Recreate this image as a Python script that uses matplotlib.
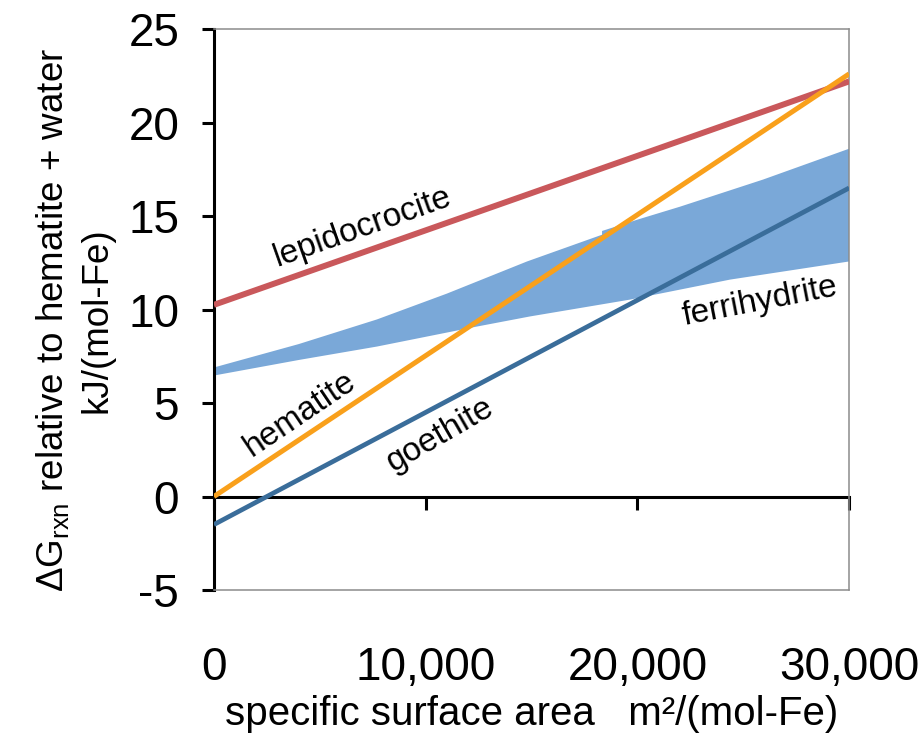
import numpy as np
import matplotlib
matplotlib.use("Agg")
import matplotlib.pyplot as plt

plt.rcParams['font.family'] = ['Liberation Sans', 'DejaVu Sans']
plt.rcParams['mathtext.fontset'] = 'custom'
plt.rcParams['mathtext.rm'] = 'Liberation Sans'

# surface area (m2/mol-Fe) and free energies (kJ/mol-Fe)
area_ends = [0, 30000]
lepidocrocite = [10.25, 22.2]
hematite = [0.0, 22.6]
goethite = [-1.5, 16.5]

# ferrihydrite range: upper and lower envelopes
fh_upper_x = [0, 4000, 7700, 11000, 14787, 18330, 18330, 19983, 22014, 25936, 30000]
fh_upper_y = [6.9, 8.15, 9.47, 10.85, 12.57, 14.0, 14.2, 14.8, 15.5, 16.95, 18.6]
fh_lower_x = [0, 4000, 7700, 12424, 14928, 19652, 24376, 30000]
fh_lower_y = [6.47, 7.3, 8.02, 9.09, 9.63, 10.53, 11.6, 12.57]

xticks = [0, 10000, 20000, 30000]
xtick_labels = ['0', '10,000', '20,000', '30,000']
yticks = [-5, 0, 5, 10, 15, 20, 25]

fig = plt.figure(figsize=(9.22, 7.38), dpi=100)
ax = fig.add_axes([0.232, 0.2005, 0.689, 0.7602])

poly_x = np.concatenate([fh_upper_x, fh_lower_x[::-1]])
poly_y = np.concatenate([fh_upper_y, fh_lower_y[::-1]])
ax.fill(poly_x, poly_y, color='#7aa8d8', lw=0, zorder=1)

ax.plot(area_ends, lepidocrocite, color='#c9585b', lw=4.3, solid_capstyle='butt', zorder=3)
ax.plot(area_ends, goethite, color='#3a6d9a', lw=3.4, solid_capstyle='butt', zorder=3)
ax.plot(area_ends, hematite, color='#f9a01b', lw=3.6, solid_capstyle='butt', zorder=4)

ax.set_xlim(0, 30000)
ax.set_ylim(-5, 25)

# frame: heavy black y axis, thin grey box elsewhere
for side in ['top', 'right', 'bottom']:
    ax.spines[side].set_color('#8c8c8c')
    ax.spines[side].set_linewidth(1.1)
ax.spines['left'].set_color('black')
ax.spines['left'].set_linewidth(2.2)

ax.set_yticks(yticks)
ax.set_yticklabels([str(v) for v in yticks])
ax.tick_params(axis='y', direction='out', length=9, width=2.2, pad=16, labelsize=33)
ax.set_xticks(xticks)
ax.set_xticklabels(xtick_labels)
ax.tick_params(axis='x', length=0, pad=40, labelsize=33)

# zero line carrying the x tick marks
zero_ax = ax.secondary_xaxis(5 / 30)
zero_ax.set_xticks(xticks)
zero_ax.tick_params(direction='out', length=9, width=2.2, labelbottom=False)
zero_ax.spines['bottom'].set_linewidth(2.2)
zero_ax.spines['bottom'].set_color('black')

ax.set_xlabel('specific surface area   m\u00b2/(mol-Fe)', fontsize=29, labelpad=4)
fig.text(0.081, 0.566, 'ΔG$_\\mathregular{rxn}$ relative to hematite + water\nkJ/(mol-Fe)',
         rotation=90, ha='center', va='center', multialignment='center',
         fontsize=26.5, linespacing=1.3)

lbl = dict(fontsize=24, ha='center', va='center', rotation_mode='anchor', zorder=5)
ax.text(7040, 14.4, 'lepidocrocite', rotation=19.5, **lbl)
ax.text(4060, 4.4, 'hematite', rotation=34, **lbl)
ax.text(10680, 3.3, 'goethite', rotation=30, **lbl)
ax.text(25790, 10.4, 'ferrihydrite', rotation=11, **lbl)

fig.savefig('out.png', dpi=100)
